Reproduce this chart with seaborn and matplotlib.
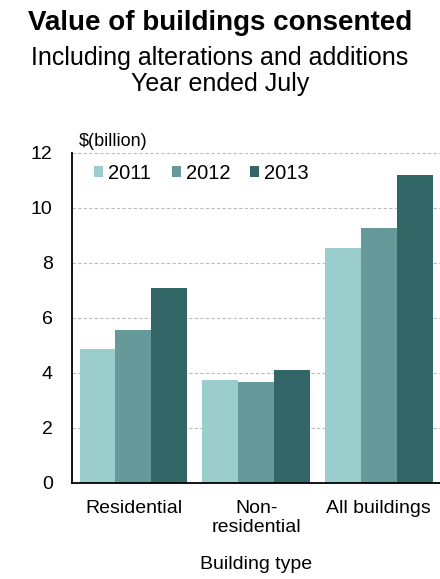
import pandas as pd
import seaborn as sns
import matplotlib.pyplot as plt

# data
categories = ['Residential', 'Non-\nresidential', 'All buildings']
years = ['2011', '2012', '2013']
v2011 = [4.85, 3.75, 8.55]
v2012 = [5.57, 3.66, 9.27]
v2013 = [7.10, 4.10, 11.2]
colors = ['#9bcdcd', '#669999', '#336666']

df = pd.DataFrame({
    'type': categories * 3,
    'year': [y for y in years for _ in categories],
    'value': v2011 + v2012 + v2013,
})

sns.set_style('white')
plt.rcParams['font.family'] = ['Liberation Sans', 'DejaVu Sans']
plt.rcParams['text.color'] = 'black'

fig = plt.figure(figsize=(4.4, 5.79), dpi=100)
ax = fig.add_axes([0.164, 0.166, 0.836, 0.570])

sns.barplot(data=df, x='type', y='value', hue='year', order=categories,
            hue_order=years, palette=colors, saturation=1, width=0.88, gap=0,
            edgecolor='none', linewidth=0, ax=ax)

ax.set_ylim(0, 12)
ax.set_xlim(-0.5, 2.5)
ax.set_yticks(range(0, 13, 2))
ax.yaxis.grid(True, linestyle=(0, (3, 2)), color='#bbbbbb', linewidth=0.8)
ax.set_axisbelow(True)
for s in ['top', 'right']:
    ax.spines[s].set_visible(False)
for s in ['left', 'bottom']:
    ax.spines[s].set_color('black')
    ax.spines[s].set_linewidth(1.3)
ax.tick_params(axis='both', length=0, labelsize=14, labelcolor='black')
ax.tick_params(axis='y', pad=14)
ax.tick_params(axis='x', pad=12)
ax.set_xlabel('Building type', fontsize=14, labelpad=14, color='black')
ax.set_ylabel('')

leg = ax.legend(loc='upper left', bbox_to_anchor=(0.03, 1.0), ncol=3,
                frameon=False, fontsize=14.5, handlelength=0.45,
                handleheight=0.45, handletextpad=0.25, columnspacing=1.0,
                borderaxespad=0.15)
for t in leg.get_texts():
    t.set_color('black')

fig.text(0.18, 0.755, '$(billion)', fontsize=13, ha='left', va='center')
fig.text(0.5, 0.960, 'Value of buildings consented', fontsize=20,
         fontweight='bold', ha='center', va='center')
fig.text(0.5, 0.900, 'Including alterations and additions', fontsize=18,
         ha='center', va='center')
fig.text(0.5, 0.855, 'Year ended July', fontsize=18, ha='center', va='center')

fig.savefig('out.png', dpi=100)
